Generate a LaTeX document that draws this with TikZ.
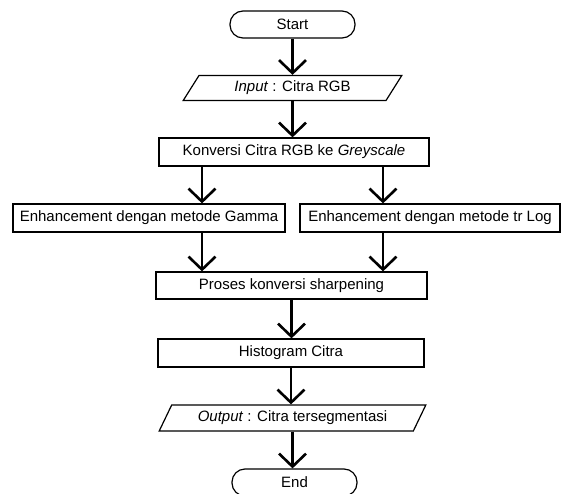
\documentclass[tikz,border=0pt]{standalone}
\usepackage{fontspec}
\setmainfont{Liberation Sans}
\usepackage{tikz}
\usetikzlibrary{arrows.meta, shapes.geometric}

\begin{document}
\begin{tikzpicture}[x=1pt, y=-1pt, >={Straight Barb[length=13pt, width=27pt]},
	every node/.style={font=\fontsize{15pt}{18pt}\selectfont, inner sep=0pt},
	kotak/.style={draw, line width=1.2pt, minimum height=28pt},
	terminal/.style={draw, line width=1.2pt, rounded corners=13pt, minimum width=125pt, minimum height=27pt},
	jajar/.style={draw, line width=1.2pt, trapezium, trapezium stretches=true, trapezium left angle=55, trapezium right angle=125},
	panah/.style={->, line width=2.6pt}]
	\useasboundingbox (0,0) rectangle (561,494);
	
	% simbol alir
	\node[terminal] (start) at (292.5,24.5) {Start};
	\node[jajar, minimum width=219pt, minimum height=25pt] (input) at (292.5,88) {\textit{Input} : Citra RGB};
	\node[kotak, minimum width=270pt] (konv) at (294,152) {Konversi Citra RGB ke \textit{Greyscale}};
	\node[kotak, minimum width=272pt] (gamma) at (149,218) {Enhancement dengan metode Gamma};
	\node[kotak, minimum width=260pt] (trlog) at (430,218) {Enhancement dengan metode tr Log};
	\node[kotak, minimum width=271pt, minimum height=27pt] (proses) at (291.5,285.5) {Proses konversi sharpening};
	\node[kotak, minimum width=266pt] (histo) at (291,353) {Histogram Citra};
	\node[jajar, minimum width=267pt, minimum height=26pt] (output) at (292.5,418) {\textit{Output} : Citra tersegmentasi};
	\node[terminal] (end) at (294.5,482.5) {End};
	
	% titik cabang
	\coordinate (kiri) at ([xshift=-92pt]konv.south);
	\coordinate (kanan) at ([xshift=89pt]konv.south);
	
	% panah
	\draw[panah] (start.south) -- (start.south |- input.north);
	\draw[panah] (input.south) -- (input.south |- konv.north);
	\draw[panah] (kiri) -- (kiri |- gamma.north);
	\draw[panah] (kanan) -- (kanan |- trlog.north);
	\draw[panah] (kiri |- gamma.south) -- (kiri |- proses.north);
	\draw[panah] (kanan |- trlog.south) -- (kanan |- proses.north);
	\draw[panah] (proses.south) -- (proses.south |- histo.north);
	\draw[panah] (histo.south) -- (histo.south |- output.north);
	\draw[panah] (output.south) -- (output.south |- end.north);
\end{tikzpicture}
\end{document}
